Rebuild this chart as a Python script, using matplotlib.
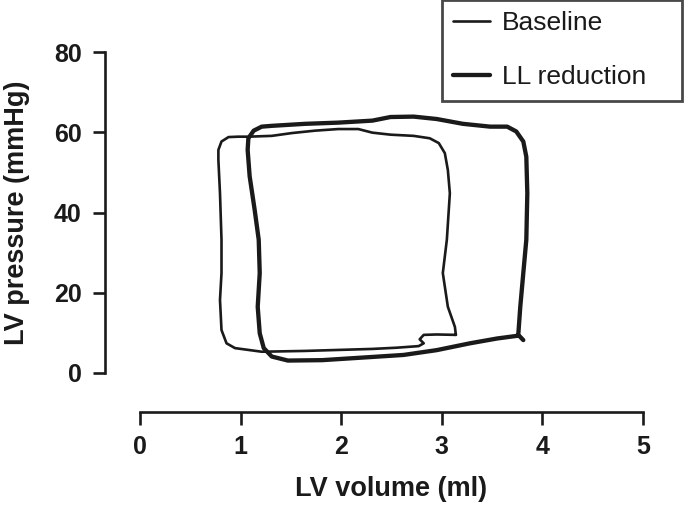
import matplotlib
matplotlib.use("Agg")
import matplotlib.pyplot as plt

plt.rcParams['font.family'] = ['Liberation Sans', 'DejaVu Sans']

# Baseline PV loop (volume ml, pressure mmHg)
base_vol = [3.14, 2.95, 2.82, 2.78, 2.82, 2.77, 2.55, 2.31, 1.64, 1.21, 0.944, 0.86, 0.81, 0.795, 0.81,
            0.81, 0.795, 0.779, 0.779, 0.81, 0.88, 0.977, 1.077, 1.31, 1.51, 1.74, 1.97, 2.17, 2.31,
            2.49, 2.72, 2.88, 2.97, 3.03, 3.06, 3.08, 3.05, 3.01, 3.06, 3.13, 3.14]
base_pres = [9.5, 9.6, 9.5, 8.4, 7.4, 6.7, 6.3, 6.0, 5.5, 5.3, 6.2, 7.4, 10.7, 18.2, 24.9,
             33.2, 44.8, 53.1, 55.6, 57.7, 58.8, 58.9, 58.9, 59.1, 59.8, 60.4, 60.8, 60.8, 59.9,
             59.4, 59.1, 58.5, 57.3, 54.8, 50.6, 44.8, 33.2, 24.9, 16.5, 11.5, 9.5]

# LL reduction PV loop
ll_vol = [3.76, 3.55, 3.28, 2.95, 2.62, 2.31, 1.81, 1.47, 1.31, 1.23, 1.19, 1.17, 1.19, 1.18, 1.14,
          1.09, 1.07, 1.077, 1.13, 1.21, 1.31, 1.64, 1.97, 2.31, 2.49, 2.72, 2.95, 3.21, 3.48, 3.65,
          3.74, 3.81, 3.84, 3.85, 3.84, 3.81, 3.78, 3.76, 3.81]
ll_pres = [9.3, 8.6, 7.4, 5.7, 4.5, 4.0, 3.2, 3.1, 4.1, 6.2, 9.9, 16.5, 24.9, 33.2, 40.6,
           49.0, 55.6, 58.5, 60.4, 61.4, 61.6, 62.1, 62.4, 62.9, 63.8, 63.9, 63.3, 62.1, 61.4, 61.4,
           60.2, 57.7, 53.9, 44.8, 33.2, 24.9, 16.5, 9.5, 8.2]

x_ticks = [0, 1, 2, 3, 4, 5]
y_ticks = [0, 20, 40, 60, 80]

fig = plt.figure(figsize=(6.85, 5.05), dpi=100)
ax = fig.add_axes([0.2044, 0.2614, 0.7343, 0.6356])

ax.plot(base_vol, base_pres, color='#1a1a1a', lw=1.9, solid_joinstyle='round', solid_capstyle='round', label='Baseline')
ax.plot(ll_vol, ll_pres, color='#1a1a1a', lw=3.1, solid_joinstyle='round', solid_capstyle='round', label='LL reduction')

ax.set_xlim(0, 5)
ax.set_ylim(0, 80)
ax.set_xticks(x_ticks)
ax.set_yticks(y_ticks)
ax.set_xticklabels([str(t) for t in x_ticks])
ax.set_yticklabels([str(t) for t in y_ticks])

for s in ['top', 'right']:
    ax.spines[s].set_visible(False)
ax.spines['left'].set_position(('outward', 25))
ax.spines['bottom'].set_position(('outward', 28))
ax.spines['left'].set_bounds(0, 80)
ax.spines['bottom'].set_bounds(0, 5)
for s in ['left', 'bottom']:
    ax.spines[s].set_linewidth(1.9)
    ax.spines[s].set_color('#1a1a1a')
ax.tick_params(direction='out', length=9, width=1.9, color='#1a1a1a', pad=8,
               labelsize=18, labelcolor='#1a1a1a')
for lab in ax.get_xticklabels() + ax.get_yticklabels():
    lab.set_fontweight('bold')

ax.set_xlabel('LV volume (ml)', fontsize=19.5, fontweight='bold', labelpad=12, color='#1a1a1a')
ax.set_ylabel('LV pressure (mmHg)', fontsize=19.5, fontweight='bold', labelpad=17, color='#1a1a1a')

leg = fig.legend(loc='upper left', bbox_to_anchor=(442 / 685, 0.0, 240 / 685, 1.0),
                 mode='expand', fontsize=19, frameon=True,
                 fancybox=False, edgecolor='#1a1a1a', handlelength=1.4, handletextpad=0.45,
                 labelspacing=1.15, borderpad=0.42, borderaxespad=0.0)
leg.get_frame().set_linewidth(2.0)
for t in leg.get_texts():
    t.set_color('#1a1a1a')

fig.savefig('out.png', dpi=100)
